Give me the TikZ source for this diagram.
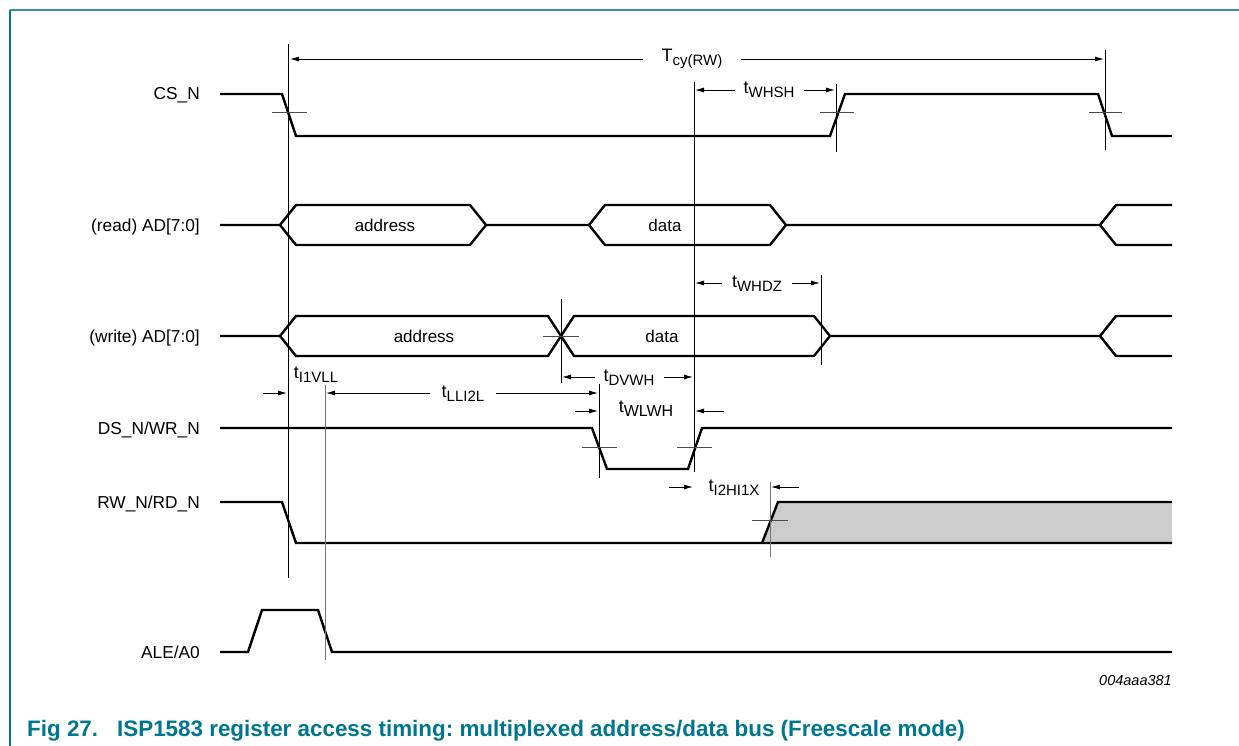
\documentclass[tikz,border=0pt]{standalone}
\usepackage{fontspec}
\setmainfont{Liberation Sans}
\usetikzlibrary{arrows.meta}
\definecolor{teal1}{RGB}{0,118,140}
\definecolor{frame1}{RGB}{60,140,165}
\definecolor{fillgray}{RGB}{204,204,204}
\newcommand\tsub[1]{\raisebox{-4pt}{\fontsize{15}{15}\selectfont #1}}
\tikzset{
  sig/.style={line width=2.4pt, line join=miter},
  refl/.style={line width=0.9pt, black},
  refg/.style={line width=0.9pt, black!55},
  crossm/.style={line width=0.9pt, black!70},
  dim/.style={line width=0.9pt, black, -{Latex[length=9pt,width=5pt]}},
  lbl/.style={anchor=base east, inner sep=0pt, font=\fontsize{17.3}{18}\selectfont},
  tlbl/.style={anchor=base, inner sep=0pt, font=\fontsize{18}{18}\selectfont},
  boxtxt/.style={inner sep=0pt, font=\fontsize{17}{18}\selectfont}
}
\begin{document}
\frenchspacing
\begin{tikzpicture}[x=1pt,y=-1pt]
\useasboundingbox (0,0) rectangle (1239,746);
% frame
\draw[frame1, line width=1.6pt] (10,10) -- (1239,10);
\draw[teal1, line width=1.6pt] (10,10) -- (10,746);

% signal labels
\node[lbl] (lcs) at (200,100) {CS\_N};
\node[lbl] (lrd) at (200,231) {(read) AD[7:0]};
\node[lbl] (lwr) at (200,342) {(write) AD[7:0]};
\node[lbl] (lds) at (200,434) {DS\_N/WR\_N};
\node[lbl] (lrw) at (200,508) {RW\_N/RD\_N};
\node[lbl] (lal) at (200,658) {ALE/A0};

% gray fill RW_N
\fill[fillgray] (762,543) -- (778,502) -- (1172,502) -- (1172,543) -- cycle;

% CS_N
\draw[sig] (220,94) -- (282,94) -- (296,136) -- (830,136) -- (845,94) -- (1098,94) -- (1112,136) -- (1172,136);
% read AD
\draw[sig] (220,225) -- (280,225) -- (296,205) -- (470,205) -- (486,225) -- (589,225);
\draw[sig] (280,225) -- (296,245) -- (470,245) -- (486,225);
\draw[sig] (589,225) -- (605,205) -- (770,205) -- (786,225);
\draw[sig] (589,225) -- (605,245) -- (770,245) -- (786,225);
\draw[sig] (786,225) -- (1100,225) -- (1116,205) -- (1172,205);
\draw[sig] (1100,225) -- (1116,245) -- (1172,245);
% write AD
\draw[sig] (220,336) -- (280,336) -- (296,316) -- (548,316) -- (574,356) -- (814,356) -- (830,336) -- (1100,336) -- (1116,316) -- (1172,316);
\draw[sig] (280,336) -- (296,356) -- (548,356) -- (574,316) -- (814,316) -- (830,336);
\draw[sig] (1100,336) -- (1116,356) -- (1172,356);
% DS_N
\draw[sig] (220,428) -- (592,428) -- (607,469) -- (688,469) -- (702,428) -- (1172,428);
% RW_N
\draw[sig] (220,502) -- (282,502) -- (296,543) -- (1172,543);
\draw[sig] (762,543) -- (778,502) -- (1172,502);
% ALE
\draw[sig] (220,652) -- (248,652) -- (262,610) -- (318,610) -- (332,652) -- (1172,652);

% box texts
\node[boxtxt] (ta1) at (385,225) {address};
\node[boxtxt] (td1) at (665,225) {data};
\node[boxtxt] (ta2) at (424,336) {address};
\node[boxtxt] (td2) at (662,336) {data};

% reference verticals
\draw[refl] (288,44) -- (288,578);
\draw[refl] (694,82) -- (694,472);
\draw[refl] (836,84) -- (836,152);
\draw[refl] (1105,50) -- (1105,150);
\draw[refl] (561,299) -- (561,383);
\draw[refl] (821,275) -- (821,365);
\draw[refg] (325,385) -- (325,660);
\draw[refl] (599,384) -- (599,478);
\draw[refg] (770,482) -- (770,557);

% cross marks
\draw[crossm] (272,112) -- (307,112);
\draw[crossm] (820,112) -- (854,112);
\draw[crossm] (1089,112) -- (1122,112);
\draw[crossm] (543,336) -- (579,336);
\draw[crossm] (582,447) -- (617,447);
\draw[crossm] (677,447) -- (712,447);
\draw[crossm] (752,520) -- (788,520);

% Tcy(RW)
\node[tlbl] (tcy) at (692,62) {T\tsub{cy(RW)}};
\draw[dim] (643,59) -- (290,59);
\draw[dim] (741,59) -- (1104,59);
% tWHSH
\node[tlbl] (twhsh) at (769,94) {t\tsub{WHSH}};
\draw[dim] (735,90) -- (695,90);
\draw[dim] (804,90) -- (835,90);
% tWHDZ
\node[tlbl] (twhdz) at (757,287) {t\tsub{WHDZ}};
\draw[dim] (722,283) -- (695,283);
\draw[dim] (792,283) -- (820,283);
% tDVWH
\node[tlbl] (tdvwh) at (629,381) {t\tsub{DVWH}};
\draw[dim] (595,377) -- (562,377);
\draw[dim] (664,377) -- (693,377);
% tI1VLL
\node[tlbl] (ti1vll) at (316,378) {t\tsub{I1VLL}};
\draw[dim] (263,393) -- (287,393);
% tLLI2L
\node[tlbl] (tlli2l) at (463,397) {t\tsub{LLI2L}};
\draw[dim] (430,393) -- (326,393);
\draw[dim] (496,393) -- (598,393);
% tWLWH
\node[tlbl] (twlwh) at (646,412) {t\raisebox{-4pt}{\fontsize{16}{16}\selectfont WLWH}};
\draw[dim] (575,411) -- (598,411);
\draw[dim] (724,411) -- (695,411);
% tI2HI1X
\node[tlbl] (ti2hi1x) at (734,491) {t\tsub{I2HI1X}};
\draw[dim] (669,487) -- (693,487);
\draw[dim] (799,487) -- (771,487);

% id
\node[anchor=base east, inner sep=0pt, font=\fontsize{14.5}{15}\selectfont\itshape] (id) at (1172,685) {004aaa381};
% caption
\node[anchor=base west, inner sep=0pt, text=teal1, font=\fontsize{22.4}{24}\selectfont\bfseries] (cap) at (27,736) {Fig 27.\hspace{19pt}ISP1583 register access timing: multiplexed address/data bus (Freescale mode)};
\end{tikzpicture}
\end{document}
